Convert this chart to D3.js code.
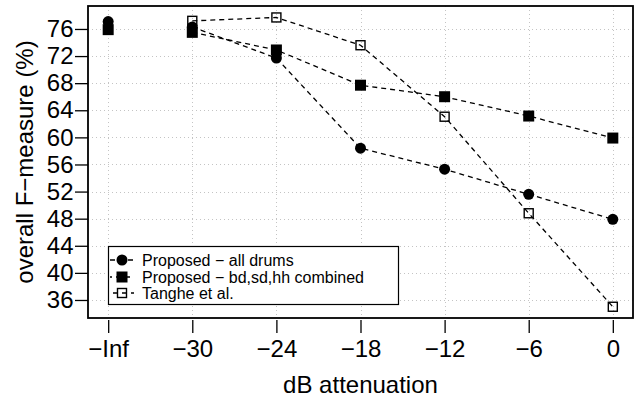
<!DOCTYPE html>
<html>
<head>
<meta charset="utf-8">
<script src="https://cdn.jsdelivr.net/npm/d3@7"></script>
<style>
  body { margin: 0; background: #fff; }
  svg { display: block; font-family: "Liberation Sans", Arial, Helvetica, sans-serif; }
</style>
</head>
<body>
<svg id="chart" width="635" height="398"></svg>
<script>
// attenuation levels (x categories)
const attenuations = ["\u2212Inf", "\u221230", "\u221224", "\u221218", "\u221212", "\u22126", "0"];
const yTicks = [36, 40, 44, 48, 52, 56, 60, 64, 68, 72, 76];

// overall F-measure (%) per attenuation level
const allDrums = [77.1, 76.3, 71.7, 58.4, 55.3, 51.6, 47.9];
const bdSdHh = [75.9, 75.5, 72.9, 67.7, 66.0, 63.15, 59.9];
const tanghe = [null, 77.2, 77.7, 73.6, 63.05, 48.8, 35.0];

const seriesNames = ["Proposed \u2212 all drums", "Proposed \u2212 bd,sd,hh combined", "Tanghe et al."];

const svg = d3.select("#chart");
const plot = { left: 88, right: 633, top: 6, bottom: 318 };

const x = d3.scaleLinear().domain([-0.24, 6.24]).range([plot.left, plot.right]);
const y = d3.scaleLinear().domain([33.34, 79.39]).range([plot.bottom, plot.top]);

// dotted grid
const grid = svg.append("g").attr("stroke", "#c4c4c4").attr("stroke-width", 1).attr("stroke-dasharray", "1,3");
grid.selectAll(".gx").data(attenuations).enter().append("line")
  .attr("x1", (d, i) => Math.round(x(i)) + 0.5).attr("x2", (d, i) => Math.round(x(i)) + 0.5)
  .attr("y1", plot.top).attr("y2", plot.bottom);
grid.selectAll(".gy").data(yTicks).enter().append("line")
  .attr("x1", plot.left).attr("x2", plot.right)
  .attr("y1", d => Math.round(y(d)) + 0.5).attr("y2", d => Math.round(y(d)) + 0.5);

// series
const series = [
  { values: allDrums, shape: "circle" },
  { values: bdSdHh, shape: "square" },
  { values: tanghe, shape: "open" }
];

const line = d3.line()
  .x(d => x(d.i))
  .y(d => y(d.v));

// -Inf is a reference point, the dashed lines start at -30 dB
series.forEach(s => {
  const pts = s.values.map((v, i) => ({ i, v })).filter(d => d.i > 0 && d.v != null);
  svg.append("path")
    .datum(pts)
    .attr("d", line)
    .attr("fill", "none")
    .attr("stroke", "#000")
    .attr("stroke-width", 1.3)
    .attr("stroke-dasharray", "5,4");
});

function drawSymbol(g, shape, cx, cy) {
  if (shape === "circle") {
    g.append("circle").attr("cx", cx).attr("cy", cy).attr("r", 5.5).attr("fill", "#000");
  } else if (shape === "square") {
    g.append("rect").attr("x", cx - 5.5).attr("y", cy - 5.5).attr("width", 11).attr("height", 11).attr("fill", "#000");
  } else {
    g.append("rect").attr("x", cx - 4.5).attr("y", cy - 4.5).attr("width", 9).attr("height", 9)
      .attr("fill", "none").attr("stroke", "#000").attr("stroke-width", 1.4);
  }
}

const marks = svg.append("g");
series.forEach(s => {
  s.values.forEach((v, i) => {
    if (v != null) drawSymbol(marks, s.shape, x(i), y(v));
  });
});

// plot frame
svg.append("rect")
  .attr("x", plot.left).attr("y", plot.top)
  .attr("width", plot.right - plot.left).attr("height", plot.bottom - plot.top)
  .attr("fill", "none").attr("stroke", "#000").attr("stroke-width", 1.8);

// y axis
const yAxis = svg.append("g")
  .attr("transform", `translate(${plot.left},0)`)
  .call(d3.axisLeft(y).tickValues(yTicks).tickSize(13).tickPadding(1.5));
yAxis.select(".domain").remove();
yAxis.selectAll("line").attr("stroke-width", 1.3);
yAxis.selectAll("text").attr("font-size", 24).attr("font-family", "Liberation Sans, Arial, sans-serif").attr("fill", "#000");

// x axis
const xAxis = svg.append("g")
  .attr("transform", `translate(0,${plot.bottom + 2})`)
  .call(d3.axisBottom(x).tickValues(d3.range(attenuations.length)).tickFormat(i => attenuations[i]).tickSize(13).tickPadding(7));
xAxis.select(".domain").remove();
xAxis.selectAll("line").attr("stroke-width", 1.3);
xAxis.selectAll("text").attr("font-size", 24).attr("font-family", "Liberation Sans, Arial, sans-serif").attr("fill", "#000");

// axis titles
svg.append("text")
  .attr("x", (plot.left + plot.right) / 2).attr("y", 393)
  .attr("text-anchor", "middle").attr("font-size", 24)
  .text("dB attenuation");
svg.append("text")
  .attr("transform", `translate(33,${(plot.top + plot.bottom) / 2}) rotate(-90)`)
  .attr("text-anchor", "middle").attr("font-size", 24)
  .text("overall F\u2212measure (%)");

// legend
const legend = svg.append("g");
legend.append("rect")
  .attr("x", 108.5).attr("y", 246.5).attr("width", 290).attr("height", 58)
  .attr("fill", "#fff").attr("stroke", "#000").attr("stroke-width", 1.2);
const rowY = [260, 277, 293];
series.forEach((s, k) => {
  legend.append("line")
    .attr("x1", 110).attr("x2", 134).attr("y1", rowY[k]).attr("y2", rowY[k])
    .attr("stroke", "#000").attr("stroke-width", 1.3).attr("stroke-dasharray", "5,4")
    .attr("stroke-dashoffset", k * 3);
  drawSymbol(legend, s.shape, 122, rowY[k]);
  legend.append("text")
    .attr("x", 142).attr("y", rowY[k]).attr("dy", "0.36em")
    .attr("font-size", 16).text(seriesNames[k]);
});
</script>
</body>
</html>
